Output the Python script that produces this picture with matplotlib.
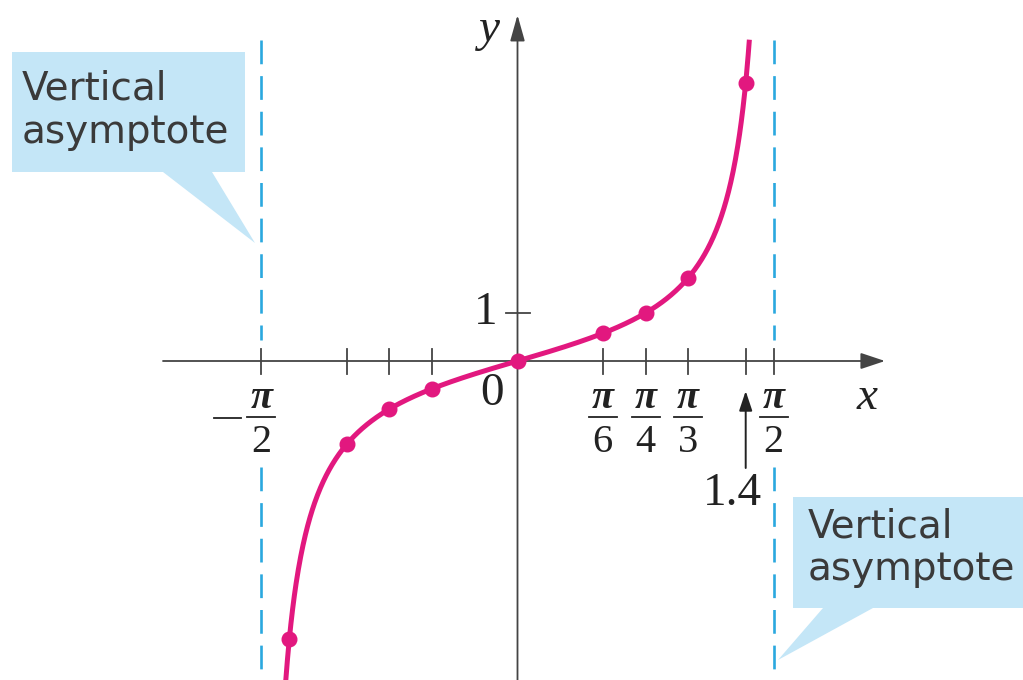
import numpy as np
import matplotlib
matplotlib.use("Agg")
import matplotlib.pyplot as plt
from matplotlib.patches import Polygon

# ---- data ----
pi = np.pi
point_x = [-1.4, -pi/3, -pi/4, -pi/6, 0.0, pi/6, pi/4, pi/3, 1.4]
point_y = [-5.80, -1.73, -1.00, -0.58, 0.0, 0.58, 1.00, 1.73, 5.80]
tick_x = [-pi/2, -pi/3, -pi/4, -pi/6, pi/6, pi/4, pi/3, 1.4, pi/2]
frac_x = [-pi/2, pi/6, pi/4, pi/3, pi/2]
frac_den = ["2", "6", "4", "3", "2"]
frac_neg = [True, False, False, False, False]
asymptotes = [-pi/2, pi/2]
y_tick = 1
curve_xmax = 1.4225
callout_text = ["Vertical", "asymptote"]

# ---- layout helpers (pixel -> data) ----
X0, Y0, SX, SY = 517.5, 361.0, 163.0, 48.0
W, H = 1023, 680
def px(p):
    return (p - X0) / SX
def py(p):
    return (Y0 - p) / SY

fig = plt.figure(figsize=(W/100, H/100), dpi=100)
ax = fig.add_axes([0, 0, 1, 1])
ax.set_xlim(px(0), px(W))
ax.set_ylim(py(H), py(0))
ax.axis("off")

axis_col = "#444444"
curve_col = "#E2187F"
asym_col = "#2AA8DF"
box_col = "#C4E6F7"
serif = "Liberation Serif"
txt_col = "#222222"

# callout boxes
def callout(pts):
    poly = Polygon([(px(a), py(b)) for a, b in pts], closed=True,
                   facecolor=box_col, edgecolor="none", zorder=1)
    ax.add_patch(poly)

callout([(12, 52), (245, 52), (245, 172), (212, 172), (255, 243), (163, 172), (12, 172)])
callout([(793, 497), (1023, 497), (1023, 608), (873, 608), (778, 660), (823, 608), (793, 608)])

for (lx, b1, b2) in [(22, 100, 143), (808, 538, 580)]:
    ax.text(px(lx), py(b1), callout_text[0], fontsize=28, color="#3a3a3a",
            family="DejaVu Sans", ha="left", va="baseline", zorder=2)
    ax.text(px(lx), py(b2), callout_text[1], fontsize=28, color="#3a3a3a",
            family="DejaVu Sans", ha="left", va="baseline", zorder=2)

# asymptotes (interrupted behind the tick labels)
for a in asymptotes:
    ax.plot([a, a], [py(40), py(340)], color=asym_col, lw=1.9,
            linestyle=(0, (9, 4.5)), zorder=2)
    ax.plot([a, a], [py(467), py(H + 5)], color=asym_col, lw=1.9,
            linestyle=(0, (9, 4.5)), zorder=2)

# axes with arrows
ax.annotate("", xy=(px(885), 0), xytext=(px(163), 0),
            arrowprops=dict(arrowstyle="-|>,head_length=1.5,head_width=0.5",
                            color=axis_col, lw=1.3, shrinkA=0, shrinkB=0), zorder=3)
ax.annotate("", xy=(0, py(15)), xytext=(0, py(H + 5)),
            arrowprops=dict(arrowstyle="-|>,head_length=1.6,head_width=0.45",
                            color=axis_col, lw=1.3, shrinkA=0, shrinkB=0), zorder=3)

# ticks
th = 12.5 / SY
for t in tick_x:
    ax.plot([t, t], [-th, th], color=axis_col, lw=1.3, zorder=3)
tw = 12 / SX
ax.plot([-tw, tw], [y_tick, y_tick], color=axis_col, lw=1.3, zorder=3)

# labels
ax.text(px(498), y_tick, "1", fontsize=34, family=serif, ha="right", va="center", color=txt_col)
ax.text(px(492), py(394), "0", fontsize=34, family=serif, ha="center", va="center", color=txt_col)
ax.text(px(867), py(398), "x", fontsize=34, family=serif, style="italic", ha="center", va="center", color=txt_col)
ax.text(px(489), py(30), "y", fontsize=34, family=serif, style="italic", ha="center", va="center", color=txt_col)
ax.text(px(732), py(494), "1.4", fontsize=34, family=serif, ha="center", va="center", color=txt_col)

# fractions
for fx, den, neg in zip(frac_x, frac_den, frac_neg):
    ax.text(fx, py(399), "π", fontsize=29, family=serif, style="italic", weight="bold",
            ha="center", va="center", color=txt_col)
    ax.plot([fx - 14/SX, fx + 14/SX], [py(417), py(417)], color=txt_col, lw=1.3)
    ax.text(fx, py(442), den, fontsize=29, family=serif, ha="center", va="center", color=txt_col)
    if neg:
        ax.plot([fx - 47/SX, fx - 20/SX], [py(418), py(418)], color=txt_col, lw=1.3)

# arrow for 1.4
ax.annotate("", xy=(1.4, py(391)), xytext=(1.4, py(468)),
            arrowprops=dict(arrowstyle="-|>,head_length=1.2,head_width=0.4",
                            color=txt_col, lw=1.4, shrinkA=0, shrinkB=0), zorder=3)

# curve and points
xs = np.linspace(-curve_xmax, curve_xmax, 800)
ax.plot(xs, np.tan(xs), color=curve_col, lw=3.6, zorder=4, solid_capstyle="butt")
ax.plot(point_x, point_y, "o", color=curve_col, ms=10.5, zorder=5)

fig.savefig("out.png", dpi=100)
